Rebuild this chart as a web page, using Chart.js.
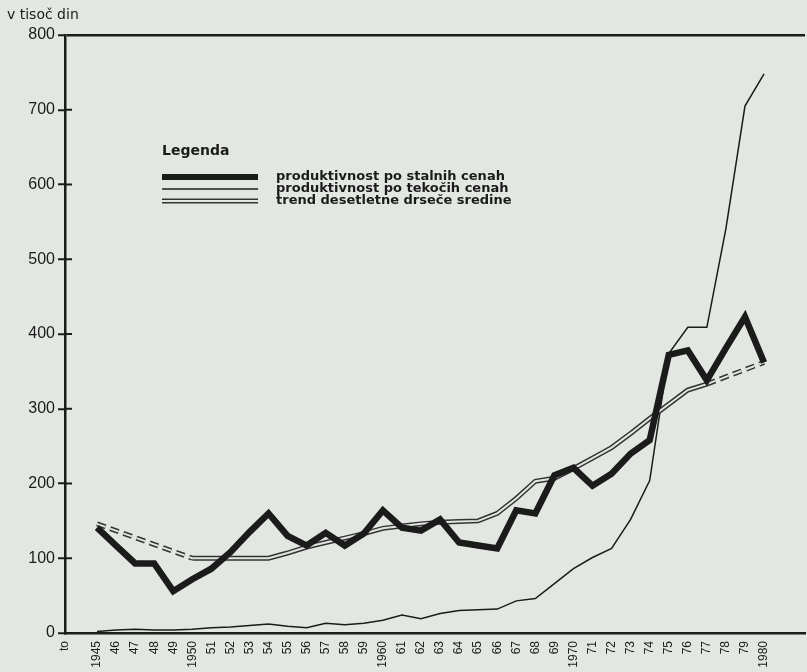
<!DOCTYPE html>
<html>
<head>
<meta charset="utf-8">
<script src="https://cdn.jsdelivr.net/npm/chart.js@4"></script>
<style>
  body { margin: 0; background: #e3e7e2; }
  #wrap { width: 807px; height: 672px; position: relative; }
</style>
</head>
<body>
<div id="wrap"><canvas id="chart"></canvas></div>
<script>
const years = [1945, 1946, 1947, 1948, 1949, 1950, 1951, 1952, 1953, 1954, 1955, 1956,
    1957, 1958, 1959, 1960, 1961, 1962, 1963, 1964, 1965, 1966, 1967, 1968,
    1969, 1970, 1971, 1972, 1973, 1974, 1975, 1976, 1977, 1978, 1979, 1980]
const yearLabels = ['1945', '46', '47', '48', '49', '1950', '51', '52', '53', '54', '55', '56',
    '57', '58', '59', '1960', '61', '62', '63', '64', '65', '66', '67', '68',
    '69', '1970', '71', '72', '73', '74', '75', '76', '77', '78', '79', '1980']
const originLabel = 'to'
const yTicks = [0, 100, 200, 300, 400, 500, 600, 700, 800]

// produktivnost po stalnih cenah
const constantPrices = [141, 117, 93, 93, 56, 72, 86, 108, 135, 160, 130, 117,
    134, 117, 133, 164, 141, 137, 152, 121, 117, 113, 164, 160,
    211, 221, 197, 213, 240, 258, 372, 378, 338, 381, 423, 362]
// produktivnost po tekocih cenah
const currentPrices = [2, 4, 5, 4, 4, 5, 7, 8, 10, 12, 9, 7,
    13, 11, 13, 17, 24, 19, 26, 30, 31, 32, 43, 46,
    66, 86, 101, 113, 152, 204, 374, 409, 409, 541, 705, 748]
// trend desetletne drsece sredine (null = only estimated, drawn dashed)
const trend = [146, null, null, null, null, 100, 100, 100, 100, 100, 107, 115,
    121, 127, 133, 140, 143, 146, 148, 149, 150, 160, 180, 203,
    207, 220, 234, 248, 267, 287, 306, 325, 333, null, null, 362]

const ink = '#1b1b1b'
const paper = '#e3e7e2'
const font = '"DejaVu Sans", Verdana, sans-serif'

const toPoints = arr => years.map((yr, i) => ({x: yr, y: arr[i]}))
// a segment that jumps over null values is drawn dashed
const gapDash = ctx => (trend[ctx.p0DataIndex] === null) ? [9, 5] : undefined

const extras = {
    id: 'extras',
    afterDraw(chart) {
        const c = chart.ctx
        const area = chart.chartArea
        const ys = chart.scales.y
        c.save()
        // unit label
        c.fillStyle = ink
        c.font = '14px ' + font
        c.textBaseline = 'middle'
        c.fillText('v tisoč din', 7, 15)
        // inner half of the crossing ticks
        c.strokeStyle = ink
        c.lineWidth = 2
        yTicks.slice(1, -1).forEach(v => {
            const py = ys.getPixelForValue(v)
            c.beginPath()
            c.moveTo(area.left, py)
            c.lineTo(area.left + 7, py)
            c.stroke()
        })
        // legend
        const lx = 162, lx2 = 258, tx = 276
        c.font = 'bold 14px ' + font
        c.fillText('Legenda', lx, 151)
        c.font = 'bold 13px ' + font
        const rows = [
            {y: 177, label: 'produktivnost po stalnih cenah'},
            {y: 189, label: 'produktivnost po tekočih cenah'},
            {y: 201, label: 'trend desetletne drseče sredine'}
        ]
        rows.forEach(r => c.fillText(r.label, tx, r.y))
        const seg = (y, w, col) => {
            c.strokeStyle = col
            c.lineWidth = w
            c.beginPath()
            c.moveTo(lx, y)
            c.lineTo(lx2, y)
            c.stroke()
        }
        seg(rows[0].y, 6, ink)
        seg(rows[1].y, 1.5, ink)
        seg(rows[2].y, 5, '#333')
        seg(rows[2].y, 2, paper)
        c.restore()
    }
}

window.addEventListener('load', () => {
    const thinLine = {
        data: toPoints(currentPrices),
        borderColor: ink,
        borderWidth: 1.5
    }
    const trendOuter = {
        data: toPoints(trend),
        borderColor: '#333',
        borderWidth: 5,
        spanGaps: true,
        segment: {borderDash: gapDash}
    }
    const trendInner = {
        data: toPoints(trend),
        borderColor: paper,
        borderWidth: 2,
        spanGaps: true,
        segment: {borderDash: gapDash}
    }
    const thickLine = {
        data: toPoints(constantPrices),
        borderColor: ink,
        borderWidth: 6.5,
        borderJoinStyle: 'miter'
    }

    new Chart(document.getElementById('chart'), {
        type: 'line',
        data: {datasets: [thickLine, trendInner, trendOuter, thinLine]},
        options: {
            responsive: true,
            maintainAspectRatio: false,
            animation: false,
            layout: {padding: {top: 35, right: 2, left: 0, bottom: 0}},
            elements: {point: {radius: 0}, line: {tension: 0}},
            plugins: {legend: {display: false}, tooltip: {enabled: false}},
            scales: {
                x: {
                    type: 'linear',
                    min: 1943.32,
                    max: 1982.15,
                    afterBuildTicks: s => {
                        s.ticks = [{value: s.min}].concat(years.map(v => ({value: v})))
                    },
                    afterFit: s => { s.height = 39 },
                    grid: {display: false},
                    border: {display: true, color: ink, width: 2.5},
                    ticks: {
                        autoSkip: false,
                        minRotation: 90,
                        maxRotation: 90,
                        padding: 0,
                        color: ink,
                        font: {family: '"Liberation Sans", Arial, sans-serif', size: 12},
                        callback: (v, i) => i === 0 ? originLabel : yearLabels[i - 1]
                    }
                },
                y: {
                    min: 0,
                    max: 800,
                    afterBuildTicks: s => { s.ticks = yTicks.map(v => ({value: v})) },
                    afterFit: s => { s.width = 65 },
                    border: {display: true, color: ink, width: 2.5},
                    grid: {
                        color: ctx => (ctx.tick && ctx.tick.value === 800) ? ink : 'rgba(0,0,0,0)',
                        lineWidth: 2.5,
                        tickColor: ink,
                        tickWidth: 2,
                        tickLength: 7
                    },
                    ticks: {
                        padding: 3,
                        color: ink,
                        font: {family: '"Liberation Sans", Arial, sans-serif', size: 16}
                    }
                }
            }
        },
        plugins: [extras]
    })
})
</script>
</body>
</html>
